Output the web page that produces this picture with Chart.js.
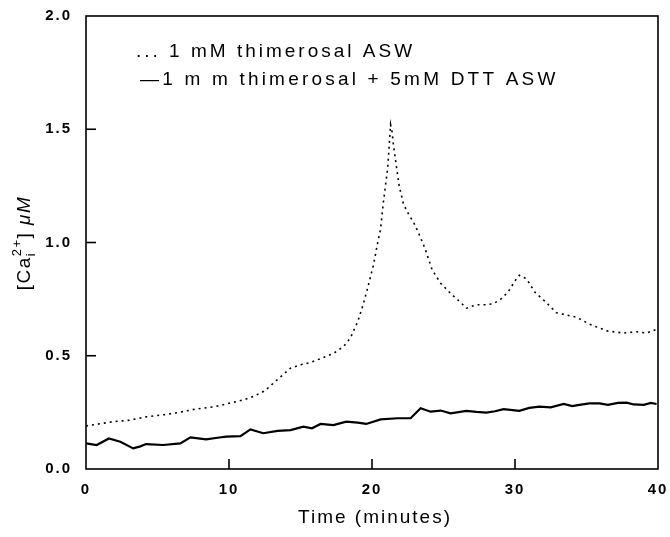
<!DOCTYPE html>
<html>
<head>
<meta charset="utf-8">
<script src="https://cdn.jsdelivr.net/npm/chart.js@4"></script>
<style>
  html, body { margin: 0; padding: 0; background: #fff; }
  #wrap { width: 670px; height: 537px; }
</style>
</head>
<body>
<div id="wrap"><canvas id="caChart" width="670" height="537"></canvas></div>
<script>
// thimerosal only (dotted trace)
const thimTime = [0, 1, 2, 3, 4.2, 5.5, 6.5, 7.7, 9, 10, 11, 11.7, 12.5, 13.3, 14.3, 15, 15.7, 16.5, 17.3, 18, 18.5, 19, 19.4, 19.7, 20.1, 20.4, 20.6, 20.8, 21.1, 21.3, 21.4, 21.5, 21.7, 21.9, 22.2, 22.6, 22.9, 23.2, 23.7, 24.2, 24.8, 25.5, 26.2, 26.6, 27.3, 28, 28.5, 29, 29.5, 30.1, 30.3, 30.8, 31.4, 32.1, 32.9, 33.6, 34.3, 35.2, 36.4, 37.6, 38.5, 39.2, 39.9];
const thimCa = [0.19, 0.2, 0.21, 0.215, 0.23, 0.24, 0.25, 0.265, 0.275, 0.29, 0.305, 0.32, 0.345, 0.39, 0.445, 0.46, 0.47, 0.49, 0.51, 0.54, 0.58, 0.65, 0.73, 0.8, 0.9, 1.0, 1.06, 1.18, 1.33, 1.52, 1.49, 1.43, 1.34, 1.25, 1.17, 1.12, 1.09, 1.05, 0.975, 0.88, 0.82, 0.775, 0.735, 0.71, 0.725, 0.725, 0.73, 0.75, 0.78, 0.84, 0.855, 0.84, 0.78, 0.74, 0.69, 0.68, 0.67, 0.64, 0.61, 0.6, 0.606, 0.6, 0.617];

// thimerosal + DTT (solid trace)
const dttTime = [0, 0.75, 1.6, 2.4, 3.3, 3.8, 4.2, 5.4, 6.6, 7.3, 8.4, 9.2, 9.8, 10.8, 11.5, 12.4, 13.4, 14.3, 15.2, 15.8, 16.4, 17.3, 18.2, 19, 19.6, 20.6, 21.8, 22.7, 23.4, 24.1, 24.8, 25.5, 26.6, 27.3, 28, 28.6, 29.2, 30.3, 31, 31.7, 32.5, 33.4, 34, 34.5, 35.2, 35.9, 36.5, 37.2, 37.8, 38.3, 39, 39.5, 39.9];
const dttCa = [0.113, 0.106, 0.135, 0.12, 0.091, 0.1, 0.11, 0.106, 0.113, 0.14, 0.131, 0.138, 0.143, 0.145, 0.175, 0.158, 0.168, 0.172, 0.187, 0.18, 0.199, 0.194, 0.209, 0.205, 0.199, 0.219, 0.224, 0.224, 0.268, 0.253, 0.258, 0.246, 0.257, 0.252, 0.249, 0.255, 0.264, 0.257, 0.27, 0.275, 0.272, 0.287, 0.278, 0.283, 0.29, 0.29, 0.283, 0.292, 0.293, 0.285, 0.283, 0.292, 0.287];

const xTicks = [0, 10, 20, 30, 40];
const yTicks = [0.0, 0.5, 1.0, 1.5, 2.0];
const legendLabels = ['... 1 mM thimerosal ASW', '\u20141 m m thimerosal + 5mM DTT ASW'];
const xTitle = 'Time (minutes)';

const FONT = '"Liberation Sans", Arial, Helvetica, sans-serif';

function toPoints(xs, ys) {
    return xs.map((x, i) => ({ x: x, y: ys[i] }));
}

// frame, inward ticks, legend text and axis titles
const decorations = {
    id: 'decorations',
    beforeDraw(chart) {
        // wider tick labels, like the original typeface
        chart.ctx.letterSpacing = '2px';
    },
    afterDraw(chart) {
        const { ctx, chartArea: a, scales } = chart;
        ctx.save();
        ctx.strokeStyle = '#000';
        ctx.lineWidth = 1.6;
        ctx.strokeRect(a.left, a.top, a.right - a.left, a.bottom - a.top);

        yTicks.slice(1, -1).forEach(v => {
            const y = scales.y.getPixelForValue(v);
            ctx.beginPath();
            ctx.moveTo(a.left, y);
            ctx.lineTo(a.left + 10, y);
            ctx.stroke();
        });
        xTicks.slice(1, -1).forEach(v => {
            const x = scales.x.getPixelForValue(v);
            ctx.beginPath();
            ctx.moveTo(x, a.bottom);
            ctx.lineTo(x, a.bottom - 10);
            ctx.stroke();
        });

        // legend
        ctx.fillStyle = '#000';
        ctx.font = '19px ' + FONT;
        ctx.letterSpacing = '3px';
        ctx.textBaseline = 'alphabetic';
        ctx.textAlign = 'left';
        ctx.fillText(legendLabels[0], a.left + 50, 57);
        ctx.letterSpacing = '3.2px';
        ctx.fillText(legendLabels[1], a.left + 54, 85);

        // x title
        ctx.letterSpacing = '2px';
        ctx.textAlign = 'center';
        ctx.fillText(xTitle, (a.left + a.right) / 2 + 3, 523);

        // y title with sub/superscript
        ctx.textAlign = 'left';
        ctx.letterSpacing = '1.5px';
        ctx.translate(24, 243);
        ctx.rotate(-Math.PI / 2);
        const parts = [
            { t: '[Ca', size: 19, dy: 0 },
            { t: 'i', size: 13, dy: 5, keep: true },
            { t: '2+', size: 13, dy: -9 },
            { t: '] ', size: 19, dy: 0 },
            { t: '\u03bcM', size: 19, dy: 0, italic: true }
        ];
        let total = 0;
        const widths = parts.map(p => {
            ctx.font = (p.italic ? 'italic ' : '') + p.size + 'px ' + FONT;
            const w = ctx.measureText(p.t).width;
            if (!p.keep) total += w;
            return w;
        });
        let x = -total / 2;
        parts.forEach((p, i) => {
            ctx.font = (p.italic ? 'italic ' : '') + p.size + 'px ' + FONT;
            ctx.fillText(p.t, x, p.dy + 6);
            if (!p.keep) x += widths[i];
        });
        ctx.restore();
        ctx.letterSpacing = '0px';
    }
};

const ctx = document.getElementById('caChart').getContext('2d');
const caChart = new Chart(ctx, {
    type: 'line',
    data: {
        datasets: [{
            label: '1 mM thimerosal ASW',
            data: toPoints(thimTime, thimCa),
            borderColor: '#000',
            borderWidth: 1.6,
            borderDash: [2, 4],
            pointRadius: 0,
            tension: 0
        }, {
            label: '1 m m thimerosal + 5mM DTT ASW',
            data: toPoints(dttTime, dttCa),
            borderColor: '#000',
            borderWidth: 2.2,
            pointRadius: 0,
            tension: 0
        }]
    },
    options: {
        responsive: false,
        animation: false,
        layout: { padding: { top: 16, right: 12, left: 0, bottom: 0 } },
        plugins: {
            legend: { display: false },
            tooltip: { enabled: false }
        },
        scales: {
            x: {
                type: 'linear',
                min: 0,
                max: 40,
                afterBuildTicks(scale) { scale.ticks = xTicks.map(v => ({ value: v })); },
                afterFit(scale) {
                    scale.height = 68;
                    scale.paddingLeft = 0;
                    scale.paddingRight = 0;
                },
                grid: { display: false, drawTicks: false },
                border: { display: false },
                ticks: {
                    padding: 12,
                    color: '#000',
                    font: { family: FONT, size: 15, weight: 'bold' },
                    maxRotation: 0
                }
            },
            y: {
                min: 0,
                max: 2,
                afterBuildTicks(scale) { scale.ticks = yTicks.map(v => ({ value: v })); },
                afterFit(scale) {
                    scale.width = 86;
                    scale.paddingTop = 0;
                    scale.paddingBottom = 0;
                },
                grid: { display: false, drawTicks: false },
                border: { display: false },
                ticks: {
                    padding: 14,
                    color: '#000',
                    font: { family: FONT, size: 15, weight: 'bold' },
                    callback: v => v.toFixed(1)
                }
            }
        }
    },
    plugins: [decorations]
});
</script>
</body>
</html>
